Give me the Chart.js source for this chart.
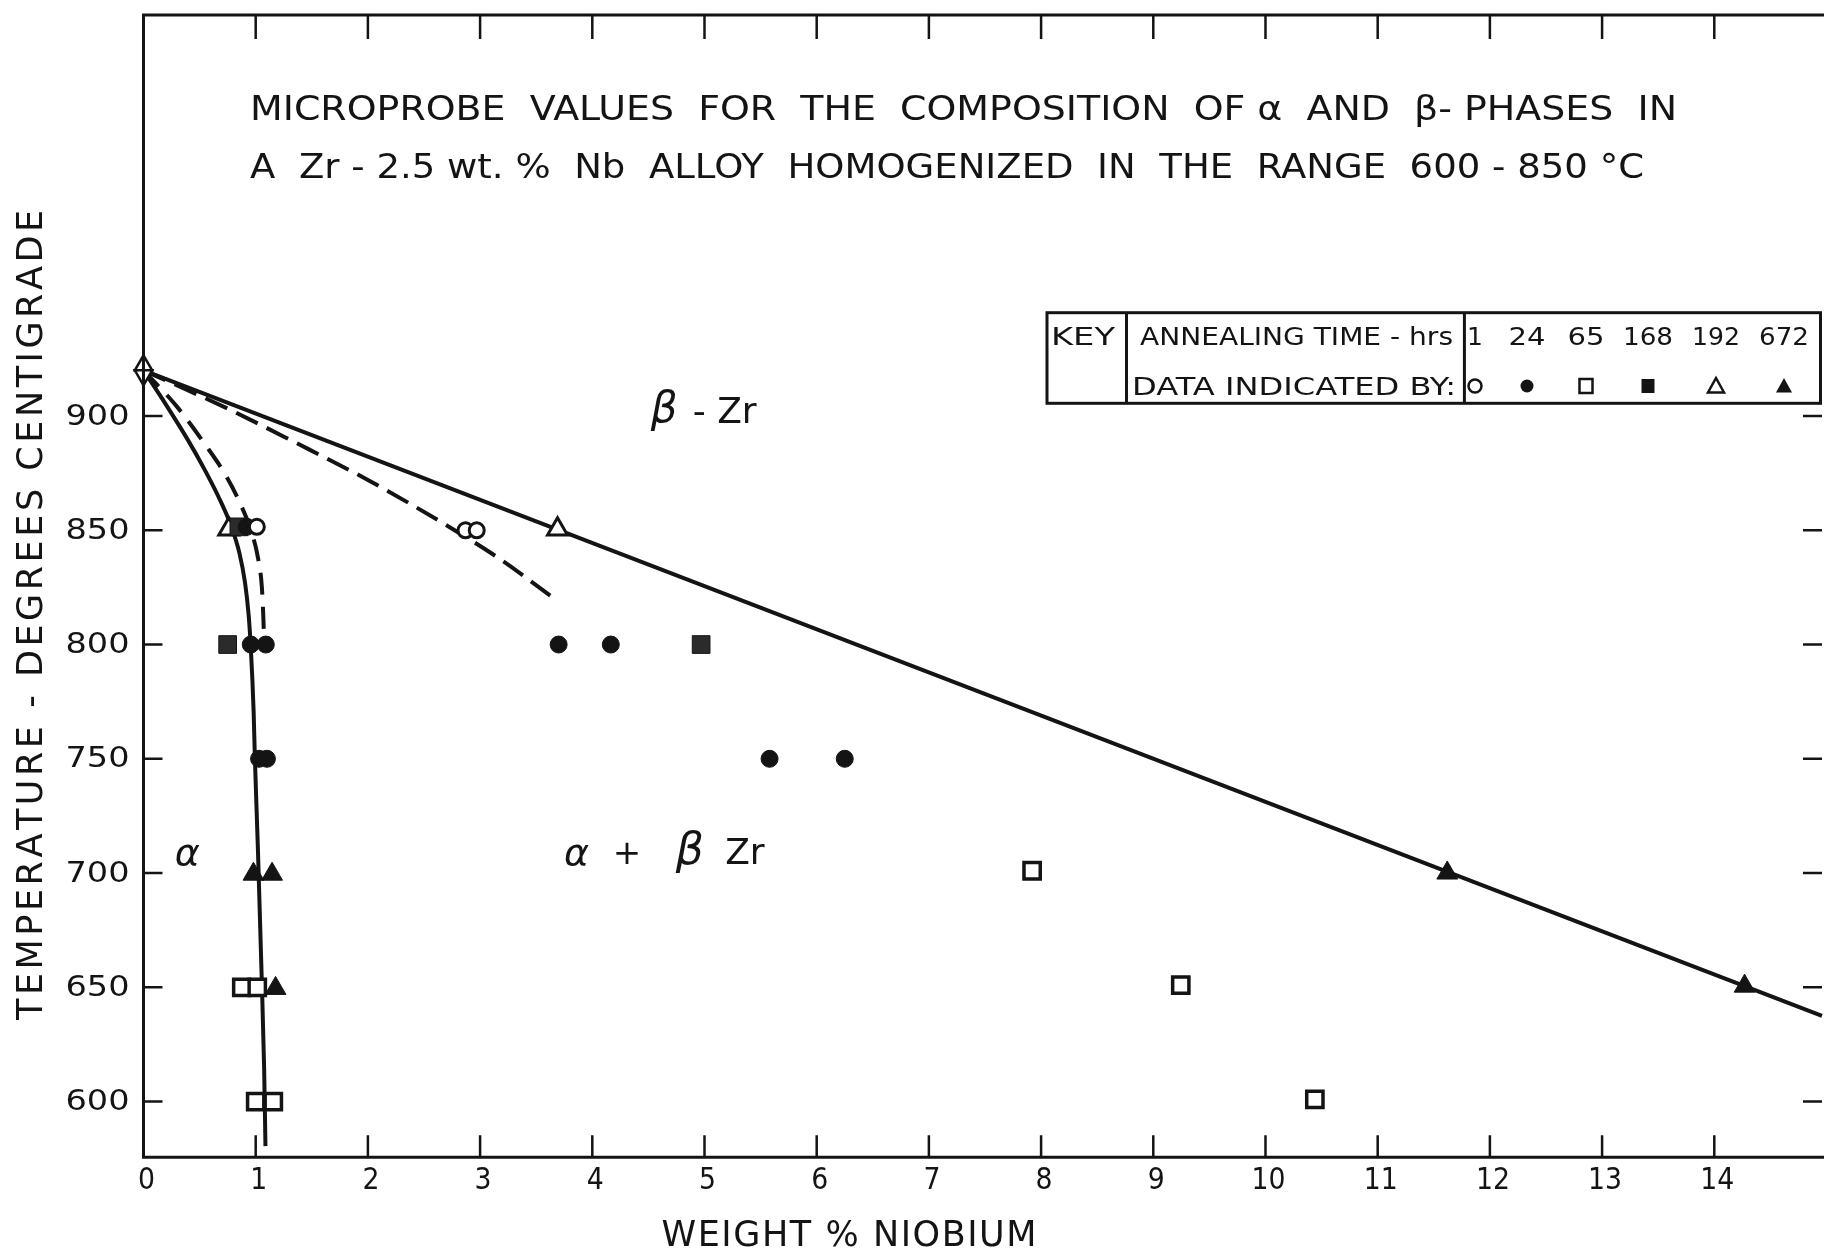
<!DOCTYPE html>
<html>
<head>
<meta charset="utf-8">
<script src="https://cdn.jsdelivr.net/npm/chart.js@4.4.0/dist/chart.umd.min.js"></script>
<style>
  html, body { margin: 0; padding: 0; background: #fff; overflow: hidden; }
  #wrap { width: 1837px; height: 1253px; }
</style>
</head>
<body>
<div id="wrap"><canvas id="chart" width="1837" height="1253"></canvas></div>
<script>
// axis ticks
const nbTicks = [0, 1, 2, 3, 4, 5, 6, 7, 8, 9, 10, 11, 12, 13, 14];
const tempTicks = [600, 650, 700, 750, 800, 850, 900];

// key: annealing time (hrs)
const annealHours = ["1", "24", "65", "168", "192", "672"];

// microprobe points, wt% Nb vs temperature (deg C), one pair per annealing time
const hr1Nb = [1.01, 2.87, 2.97];
const hr1T = [851.5, 850, 850];
const hr24Nb = [0.92, 0.956, 1.09, 3.70, 4.165, 1.03, 1.10, 5.58, 6.25];
const hr24T = [851.5, 800, 800, 800, 800, 750, 750, 750, 750];
const hr65Nb = [7.92, 0.876, 1.014, 9.245, 1.0, 1.157, 10.44];
const hr65T = [701, 650, 650, 651, 600, 600, 601];
const hr168Nb = [0.85, 0.75, 4.97];
const hr168T = [851.5, 800, 800];
const hr192Nb = [0.76, 3.69];
const hr192T = [850.5, 850.5];
const hr672Nb = [0.98, 1.146, 11.62, 1.177, 14.27];
const hr672T = [699.5, 699.5, 700, 649.5, 650.5];

// the point at 0 % Nb (triangle + inverted triangle)
const originNb = [0, 0];
const originT = [922.2, 917.8];

// phase boundaries
const betaSolidNb = [0, 14.96];
const betaSolidT = [920, 637.5];
const betaDashNb = [0, 0.76, 1.33, 2.0, 2.69, 3.19, 3.635];
const betaDashT = [920, 903, 889, 872, 852.5, 837, 821];
const alphaSolidNb = [0, 0.2, 0.39, 0.54, 0.665, 0.78, 0.855, 0.905, 0.937, 0.955, 0.97, 0.982, 0.992, 1.02, 1.05, 1.075, 1.087];
const alphaSolidT = [920, 905, 890, 877, 865, 852, 840, 827, 813, 800, 785, 770, 751.5, 710, 660, 615, 580.5];
const alphaDashNb = [0, 0.3, 0.55, 0.723, 0.85, 0.95, 1.02, 1.055, 1.068, 1.072];
const alphaDashT = [920, 904, 887.5, 874.9, 863, 851, 838, 825, 812, 806];

const ink = "#141414";
const FONT = '"DejaVu Sans", "Liberation Sans", sans-serif';

const pts = (xs, ys) => xs.map((x, i) => ({ x: x, y: ys[i] }));

function fitText(ctx, text, x, y, width, font, align) {
  ctx.font = font;
  const w = ctx.measureText(text).width;
  const s = width ? width / w : 1;
  const real = w * s;
  let left = x;
  if (align === "center") left = x - real / 2;
  else if (align === "right") left = x - real;
  ctx.save();
  ctx.translate(left, y);
  ctx.scale(s, 1);
  ctx.textAlign = "left";
  ctx.fillText(text, 0, 0);
  ctx.restore();
}

// letter-spaced text, centred on cx
function spacedText(ctx, text, cx, y, width, font) {
  ctx.font = font;
  const chars = Array.from(text);
  const widths = chars.map((c) => ctx.measureText(c).width);
  const natural = widths.reduce((a, b) => a + b, 0);
  const gap = (width - natural) / (chars.length - 1);
  let x = cx - width / 2;
  ctx.textAlign = "left";
  chars.forEach((c, i) => {
    ctx.fillText(c, x, y);
    x += widths[i] + gap;
  });
}

function keySymbol(ctx, kind, x, y) {
  ctx.save();
  ctx.lineWidth = 2.5;
  ctx.strokeStyle = ink;
  ctx.fillStyle = ink;
  ctx.beginPath();
  if (kind === 0 || kind === 1) {
    ctx.arc(x, y, 6.5, 0, Math.PI * 2);
  } else if (kind === 2 || kind === 3) {
    ctx.rect(x - 6.5, y - 7, 13, 14);
  } else {
    ctx.moveTo(x, y - 8);
    ctx.lineTo(x + 8, y + 6.5);
    ctx.lineTo(x - 8, y + 6.5);
    ctx.closePath();
  }
  if (kind === 1 || kind === 3 || kind === 5) ctx.fill();
  else ctx.stroke();
  ctx.restore();
}

const framePlugin = {
  id: "frame",
  afterDraw(chart) {
    const ctx = chart.ctx;
    const a = chart.chartArea;
    const xs = chart.scales.x;
    const ys = chart.scales.y;
    ctx.save();
    ctx.strokeStyle = ink;
    ctx.fillStyle = ink;
    ctx.lineWidth = 3;
    ctx.lineCap = "butt";

    // box: top, left, bottom
    ctx.beginPath();
    ctx.moveTo(a.right + 2, a.top);
    ctx.lineTo(a.left, a.top);
    ctx.lineTo(a.left, a.bottom);
    ctx.lineTo(a.right + 2, a.bottom);
    ctx.stroke();

    // inward ticks
    ctx.lineWidth = 2.5;
    ctx.beginPath();
    nbTicks.forEach((v) => {
      if (v === 0) return;
      const px = xs.getPixelForValue(v);
      ctx.moveTo(px, a.bottom);
      ctx.lineTo(px, a.bottom - 22);
      ctx.moveTo(px, a.top);
      ctx.lineTo(px, a.top + 24);
    });
    tempTicks.forEach((v) => {
      const py = ys.getPixelForValue(v);
      ctx.moveTo(a.left, py);
      ctx.lineTo(a.left + 19, py);
      ctx.moveTo(a.right, py);
      ctx.lineTo(a.right - 19, py);
    });
    ctx.stroke();

    // tick labels
    ctx.textBaseline = "middle";
    nbTicks.forEach((v) => {
      const px = xs.getPixelForValue(v);
      const txt = String(v);
      fitText(ctx, txt, px + 3, a.bottom + 24, txt.length * 17, "30px " + FONT, "center");
    });
    tempTicks.forEach((v) => {
      const py = ys.getPixelForValue(v);
      fitText(ctx, String(v), a.left - 14, py + 1, 64, "29px " + FONT, "right");
    });

    // axis titles
    ctx.textBaseline = "alphabetic";
    spacedText(ctx, "WEIGHT % NIOBIUM", 849, 1246, 375, "35px " + FONT);
    ctx.save();
    ctx.translate(42, 615);
    ctx.rotate(-Math.PI / 2);
    spacedText(ctx, "TEMPERATURE - DEGREES CENTIGRADE", 0, 0, 810, "35px " + FONT);
    ctx.restore();

    // chart title
    fitText(ctx, "MICROPROBE  VALUES  FOR  THE  COMPOSITION  OF \u03b1  AND  \u03b2- PHASES  IN",
      250, 120, 1427, "34px " + FONT, "left");
    fitText(ctx, "A  Zr - 2.5 wt. %  Nb  ALLOY  HOMOGENIZED  IN  THE  RANGE  600 - 850 \u00b0C",
      250, 178, 1394, "34px " + FONT, "left");

    // phase field labels
    ctx.textBaseline = "middle";
    const lab = (text, nb, t, font) =>
      fitText(ctx, text, xs.getPixelForValue(nb), ys.getPixelForValue(t), null, font, "center");
    lab("\u03b2", 4.64, 902, "italic 42px " + FONT);
    lab("- Zr", 5.18, 901, "36px " + FONT);
    lab("\u03b1", 0.39, 708, "italic 38px " + FONT);
    lab("\u03b1", 3.86, 708, "italic 38px " + FONT);
    lab("+", 4.31, 708, "34px " + FONT);
    lab("\u03b2", 4.87, 709, "italic 44px " + FONT);
    lab("Zr", 5.36, 708, "36px " + FONT);

    // key table
    ctx.lineWidth = 3;
    ctx.strokeRect(1047, 312.7, 773.5, 90.6);
    ctx.beginPath();
    ctx.moveTo(1126.5, 312.7);
    ctx.lineTo(1126.5, 403.3);
    ctx.moveTo(1464.4, 312.7);
    ctx.lineTo(1464.4, 403.3);
    ctx.stroke();
    ctx.textBaseline = "alphabetic";
    fitText(ctx, "KEY", 1051, 345, 64, "25px " + FONT, "left");
    fitText(ctx, "ANNEALING TIME - hrs", 1140, 345, 313, "25px " + FONT, "left");
    fitText(ctx, "DATA INDICATED BY:", 1132, 395, 324, "25px " + FONT, "left");
    const keyX = [1475, 1527, 1586, 1648, 1716, 1784];
    const keyW = [null, 37, 37, 50, 48, 50];
    annealHours.forEach((h, i) => {
      fitText(ctx, h, keyX[i], 345, keyW[i], "25px " + FONT, "center");
      keySymbol(ctx, i, keyX[i], 386);
    });
    ctx.restore();
  },
};

const marker = (label, xs, ys, style, radius, fill, border, extra) =>
  Object.assign({
    label: label,
    data: pts(xs, ys),
    showLine: false,
    pointStyle: style,
    pointRadius: radius,
    pointHoverRadius: radius,
    pointBackgroundColor: fill,
    pointBorderColor: ink,
    pointBorderWidth: border,
    clip: false,
  }, extra || {});

const boundary = (label, xs, ys, dash) => ({
  label: label,
  data: pts(xs, ys),
  showLine: true,
  borderColor: ink,
  borderWidth: 4,
  borderDash: dash,
  cubicInterpolationMode: "monotone",
  pointRadius: 0,
  pointHoverRadius: 0,
  clip: false,
});

new Chart(document.getElementById("chart"), {
  type: "scatter",
  data: {
    datasets: [
      marker("1 hr", hr1Nb, hr1T, "circle", 7.5, "#fff", 3),
      marker("24 hrs", hr24Nb, hr24T, "circle", 8.5, ink, 1),
      marker("65 hrs", hr65Nb, hr65T, "rect", 11.5, "#fff", 3.5),
      marker("168 hrs", hr168Nb, hr168T, "rect", 12.5, "#2b2b2b", 1),
      marker("192 hrs", hr192Nb, hr192T, "triangle", 11.5, "#fff", 3),
      marker("672 hrs", hr672Nb, hr672T, "triangle", 12, ink, 1),
      marker("0 % Nb", originNb, originT, "triangle", 10, "#fff", 2.5, { pointRotation: [0, 180] }),
      boundary("beta transus", betaSolidNb, betaSolidT, []),
      boundary("beta, dashed", betaDashNb, betaDashT, [24, 10]),
      boundary("alpha boundary", alphaSolidNb, alphaSolidT, []),
      boundary("alpha, dashed", alphaDashNb, alphaDashT, [22, 12]),
    ],
  },
  options: {
    responsive: false,
    devicePixelRatio: 1,
    animation: false,
    events: [],
    layout: { padding: { left: 143.5, right: 0, top: 9.4, bottom: 95.7 } },
    plugins: { legend: { display: false }, tooltip: { enabled: false } },
    scales: {
      x: { type: "linear", min: 0, max: 14.96, display: false },
      y: { type: "linear", min: 575.6, max: 1075.5, display: false },
    },
  },
  plugins: [framePlugin],
});
</script>
</body>
</html>
